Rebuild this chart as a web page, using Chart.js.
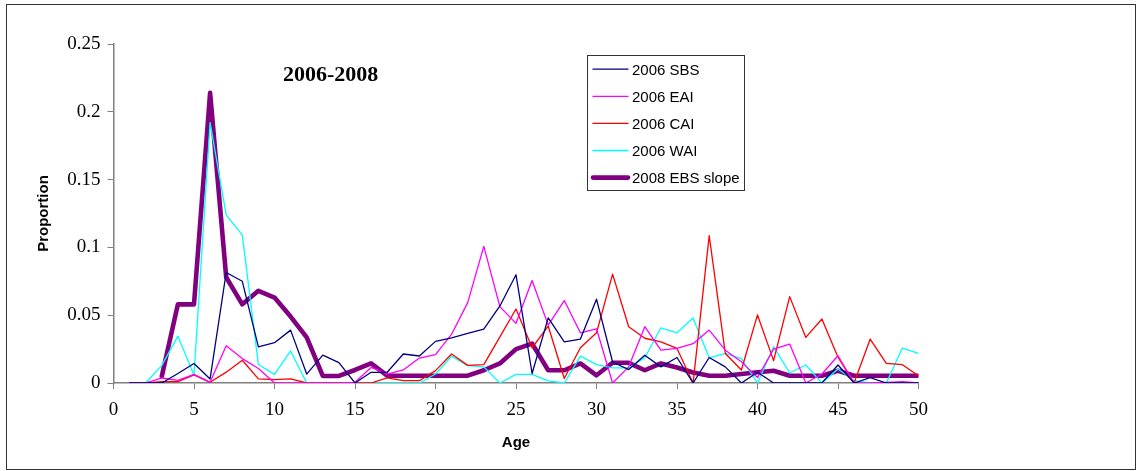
<!DOCTYPE html>
<html>
<head>
<meta charset="utf-8">
<title>Proportion at age, 2006-2008</title>
<script src="https://cdn.jsdelivr.net/npm/chart.js@4/dist/chart.umd.min.js"></script>
<style>
  html, body { margin: 0; padding: 0; background: #ffffff; }
  #wrap { width: 1139px; height: 471px; }
  canvas { display: block; }
</style>
</head>
<body>
<div id="wrap"><canvas id="chart" width="1139" height="471"></canvas></div>
<script>
// Age classes
const ages = [1, 2, 3, 4, 5, 6, 7, 8, 9, 10,
              11, 12, 13, 14, 15, 16, 17, 18, 19, 20,
              21, 22, 23, 24, 25, 26, 27, 28, 29, 30,
              31, 32, 33, 34, 35, 36, 37, 38, 39, 40,
              41, 42, 43, 44, 45, 46, 47, 48, 49, 50];

// Proportion at age by survey
const sbs2006 = [0, 0, 0, 0.007, 0.0144, 0.003, 0.0815, 0.075, 0.0267, 0.0297,
                 0.039, 0.0066, 0.0206, 0.015, 0, 0.0079, 0.0079, 0.0214, 0.0199, 0.0307,
                 0.0332, 0.0366, 0.0398, 0.0568, 0.0798, 0.007, 0.048, 0.0304, 0.0324, 0.0618,
                 0.0155, 0.0099, 0.0205, 0.0119, 0.0188, 0, 0.0188, 0.0119, 0, 0.0079,
                 0, 0, 0, 0, 0.0133, 0, 0.004, 0, 0, 0];
const eai2006 = [0, 0, 0.0037, 0.002, 0.0064, 0.0005, 0.0274, 0.018, 0.0107, 0,
                 0, 0, 0, 0, 0.0005, 0.0115, 0.0066, 0.0096, 0.0184, 0.0209,
                 0.036, 0.0593, 0.1008, 0.0563, 0.044, 0.0756, 0.0427, 0.0608, 0.037, 0.04,
                 0, 0.0119, 0.0415, 0.0242, 0.0255, 0.029, 0.039, 0.0242, 0.0156, 0.004,
                 0.025, 0.0287, 0, 0.0066, 0.0201, 0, 0, 0.0005, 0.001, 0];
const cai2006 = [0, 0, 0.001, 0.001, 0.006, 0.0005, 0.008, 0.0168, 0.003, 0.0025,
                 0.003, 0, 0, 0, 0, 0, 0.0037, 0.0017, 0.0017, 0.0091,
                 0.0214, 0.013, 0.0136, 0.034, 0.0546, 0.026, 0.042, 0.0033, 0.026, 0.037,
                 0.0803, 0.0415, 0.033, 0.0304, 0.0255, 0, 0.1087, 0.0218, 0.0096, 0.0502,
                 0.0165, 0.0637, 0.0336, 0.0472, 0.019, 0, 0.0324, 0.0145, 0.0135, 0.0054];
const wai2006 = [0, 0, 0.013, 0.0346, 0.0057, 0.192, 0.124, 0.109, 0.0136, 0.0064,
                 0.0237, 0, 0, 0, 0, 0, 0, 0, 0, 0.0066,
                 0.0197, 0.0128, 0.0119, 0, 0.0064, 0.0064, 0.0015, 0, 0.0198, 0.0136,
                 0.0111, 0.0111, 0.0186, 0.0407, 0.037, 0.048, 0.0186, 0.0218, 0.018, 0,
                 0.0268, 0.0074, 0.0133, 0, 0.0103, 0.0017, 0, 0, 0.0258, 0.0219];
const ebsSlope2008 = [null, null, 0.005, 0.058, 0.058, 0.214, 0.078, 0.058, 0.068, 0.063,
                      0.049, 0.0336, 0.0052, 0.0052, 0.0096, 0.0145, 0.0054, 0.0054, 0.0054, 0.0054,
                      0.0054, 0.0054, 0.0094, 0.0144, 0.025, 0.029, 0.0094, 0.0094, 0.0144, 0.0057,
                      0.0149, 0.0149, 0.0094, 0.0144, 0.0114, 0.0077, 0.0054, 0.0054, 0.0066, 0.0079,
                      0.009, 0.0054, 0.0054, 0.0054, 0.009, 0.0054, 0.0054, 0.0054, 0.0054, 0.0054];

// Axis ticks
const xTickValues = [0, 5, 10, 15, 20, 25, 30, 35, 40, 45, 50];
const yTickValues = [0, 0.05, 0.1, 0.15, 0.2, 0.25];

const seriesNames = ['2006 SBS', '2006 EAI', '2006 CAI', '2006 WAI', '2008 EBS slope'];
const seriesColors = ['#000080', '#FF00FF', '#FF0000', '#00FFFF', '#800080'];
const seriesWidths = [1.3, 1.3, 1.3, 1.3, 4.6];
const seriesValues = [sbs2006, eai2006, cai2006, wai2006, ebsSlope2008];

const datasets = seriesValues.map((vals, i) => ({
  label: seriesNames[i],
  data: ages.map((a, k) => ({ x: a, y: vals[k] })),
  borderColor: seriesColors[i],
  backgroundColor: seriesColors[i],
  borderWidth: seriesWidths[i],
  borderJoinStyle: 'round',
  borderCapStyle: 'round',
  pointRadius: 0,
  pointHoverRadius: 0,
  tension: 0,
  fill: false,
  spanGaps: false
}));

// Frame, heading and boxed legend drawn on the canvas
const decorations = {
  id: 'decorations',
  beforeDraw(chart) {
    const ctx = chart.ctx;
    ctx.save();
    ctx.fillStyle = '#ffffff';
    ctx.fillRect(0, 0, chart.width, chart.height);
    ctx.restore();
  },
  afterDraw(chart) {
    const ctx = chart.ctx;
    ctx.save();

    // outer frame
    ctx.strokeStyle = '#333333';
    ctx.lineWidth = 1;
    ctx.strokeRect(6.5, 4.5, 1129, 465);

    // heading
    ctx.fillStyle = '#000000';
    ctx.font = 'bold 22px "Liberation Serif", "Times New Roman", serif';
    ctx.textAlign = 'left';
    ctx.textBaseline = 'alphabetic';
    ctx.fillText('2006-2008', 283, 81);

    // legend box
    ctx.fillStyle = '#ffffff';
    ctx.fillRect(587.5, 55.5, 157, 135);
    ctx.strokeStyle = '#333333';
    ctx.lineWidth = 1;
    ctx.strokeRect(587.5, 55.5, 157, 135);

    ctx.font = '15px "Liberation Sans", Arial, sans-serif';
    ctx.textAlign = 'left';
    ctx.textBaseline = 'alphabetic';
    chart.data.datasets.forEach((ds, i) => {
      const base = 75 + i * 27.1;
      const ly = base - 5.8;
      ctx.strokeStyle = ds.borderColor;
      ctx.lineWidth = ds.borderWidth;
      ctx.lineCap = 'round';
      ctx.beginPath();
      ctx.moveTo(593, ly);
      ctx.lineTo(628, ly);
      ctx.stroke();
      ctx.fillStyle = '#000000';
      ctx.fillText(ds.label, 632, base);
    });
    ctx.restore();
  }
};

const axisGray = '#808080';
const tickFont = { family: '"Liberation Serif", "Times New Roman", serif', size: 19 };
const titleFont = { family: '"Liberation Sans", Arial, sans-serif', size: 15, weight: 'bold' };

new Chart(document.getElementById('chart'), {
  type: 'line',
  data: { datasets },
  plugins: [decorations],
  options: {
    responsive: false,
    animation: false,
    events: [],
    layout: { padding: { left: 0, right: 220.5, top: 44, bottom: 0 } },
    plugins: {
      legend: { display: false },
      title: { display: false },
      tooltip: { enabled: false }
    },
    scales: {
      x: {
        type: 'linear',
        min: 0,
        max: 50,
        offset: false,
        afterBuildTicks: (scale) => { scale.ticks = xTickValues.map(v => ({ value: v })); },
        afterFit: (scale) => { scale.height = 88; },
        grid: { drawOnChartArea: false, drawTicks: true, tickLength: 6, color: axisGray, lineWidth: 1 },
        border: { display: true, color: axisGray, width: 1.5 },
        ticks: { color: '#000000', font: tickFont, padding: 10, maxRotation: 0, autoSkip: false,
                 callback: (v) => String(v) },
        title: { display: true, text: 'Age', color: '#000000', font: titleFont,
                 padding: { top: 0, bottom: 19 } }
      },
      y: {
        type: 'linear',
        min: 0,
        max: 0.25,
        afterBuildTicks: (scale) => { scale.ticks = yTickValues.map(v => ({ value: v })); },
        afterFit: (scale) => { scale.width = 113.5; },
        grid: { drawOnChartArea: false, drawTicks: true, tickLength: 6, color: axisGray, lineWidth: 1 },
        border: { display: true, color: axisGray, width: 1.5 },
        ticks: { color: '#000000', font: tickFont, padding: 7,
                 callback: (v) => String(Number(v.toFixed(2))) },
        title: { display: true, text: 'Proportion', color: '#000000', font: titleFont,
                 padding: { top: 35, bottom: 0 } }
      }
    }
  }
});
</script>
</body>
</html>
